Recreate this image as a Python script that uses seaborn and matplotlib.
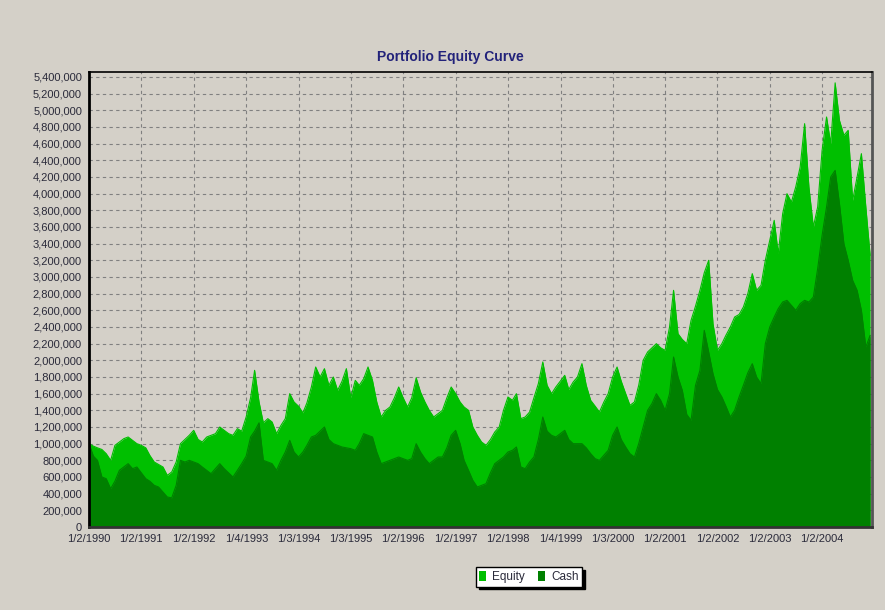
import numpy as np
import pandas as pd
import matplotlib
matplotlib.use("Agg")
import matplotlib.pyplot as plt
import matplotlib.dates as mdates
from matplotlib.patches import Patch
from matplotlib.ticker import FuncFormatter, MultipleLocator
import seaborn as sns

# ---------------- data (values in millions, one per month, Jan 1990 - Dec 2004) -------------
equity_m = [
    1.00, 0.97, 0.95, 0.93, 0.88, 0.80, 0.98, 1.02, 1.06, 1.08, 1.04, 1.00,   # 1990
    0.98, 0.95, 0.86, 0.78, 0.75, 0.72, 0.62, 0.66, 0.78, 1.00, 1.05, 1.10,   # 1991
    1.16, 1.05, 1.02, 1.08, 1.10, 1.12, 1.20, 1.16, 1.12, 1.10, 1.18, 1.15,   # 1992
    1.32, 1.55, 1.88, 1.50, 1.25, 1.30, 1.26, 1.12, 1.22, 1.30, 1.60, 1.50,   # 1993
    1.45, 1.37, 1.49, 1.68, 1.92, 1.80, 1.90, 1.70, 1.80, 1.64, 1.75, 1.90,   # 1994
    1.55, 1.76, 1.70, 1.78, 1.92, 1.76, 1.50, 1.32, 1.40, 1.44, 1.55, 1.68,   # 1995
    1.55, 1.44, 1.55, 1.79, 1.62, 1.50, 1.40, 1.32, 1.36, 1.40, 1.55, 1.68,   # 1996
    1.60, 1.50, 1.44, 1.40, 1.20, 1.10, 1.02, 0.98, 1.05, 1.14, 1.20, 1.40,   # 1997
    1.56, 1.52, 1.60, 1.30, 1.32, 1.38, 1.55, 1.72, 1.98, 1.70, 1.60, 1.68,   # 1998
    1.75, 1.82, 1.65, 1.74, 1.80, 1.96, 1.70, 1.52, 1.45, 1.38, 1.50, 1.60,   # 1999
    1.80, 1.92, 1.75, 1.60, 1.46, 1.50, 1.70, 2.00, 2.10, 2.15, 2.20, 2.15,   # 2000
    2.12, 2.40, 2.84, 2.32, 2.25, 2.20, 2.48, 2.65, 2.84, 3.05, 3.20, 2.44,   # 2001
    2.12, 2.20, 2.30, 2.40, 2.52, 2.55, 2.64, 2.80, 3.04, 2.84, 2.90, 3.20,   # 2002
    3.44, 3.68, 3.28, 3.76, 4.00, 3.90, 4.08, 4.32, 4.84, 4.08, 3.60, 3.84,   # 2003
    4.52, 4.92, 4.60, 5.33, 4.88, 4.70, 4.76, 3.92, 4.20, 4.48, 3.84, 3.26,   # 2004
]
cash_m = [
    1.00, 0.85, 0.80, 0.60, 0.58, 0.46, 0.55, 0.68, 0.72, 0.76, 0.70, 0.72,   # 1990
    0.65, 0.58, 0.55, 0.50, 0.48, 0.42, 0.36, 0.35, 0.50, 0.80, 0.78, 0.80,   # 1991
    0.78, 0.76, 0.72, 0.68, 0.64, 0.70, 0.76, 0.70, 0.65, 0.60, 0.68, 0.76,   # 1992
    0.85, 1.08, 1.15, 1.25, 0.80, 0.78, 0.76, 0.68, 0.80, 0.90, 1.04, 0.90,   # 1993
    0.84, 0.90, 0.98, 1.08, 1.10, 1.15, 1.20, 1.05, 1.00, 0.98, 0.96, 0.95,   # 1994
    0.94, 0.92, 1.00, 1.12, 1.10, 1.08, 0.90, 0.76, 0.78, 0.80, 0.82, 0.84,   # 1995
    0.82, 0.80, 0.82, 1.00, 0.90, 0.82, 0.76, 0.80, 0.84, 0.84, 0.95, 1.10,   # 1996
    1.16, 1.00, 0.80, 0.68, 0.56, 0.48, 0.50, 0.52, 0.65, 0.76, 0.80, 0.84,   # 1997
    0.90, 0.92, 0.96, 0.72, 0.70, 0.78, 0.84, 1.05, 1.32, 1.15, 1.10, 1.08,   # 1998
    1.12, 1.16, 1.05, 1.00, 1.00, 1.00, 0.95, 0.88, 0.82, 0.80, 0.86, 0.92,   # 1999
    1.10, 1.20, 1.05, 0.96, 0.88, 0.84, 1.00, 1.20, 1.40, 1.48, 1.60, 1.52,   # 2000
    1.40, 1.60, 2.04, 1.80, 1.64, 1.35, 1.28, 1.70, 1.88, 2.36, 2.10, 1.84,   # 2001
    1.65, 1.56, 1.45, 1.32, 1.40, 1.56, 1.70, 1.85, 1.96, 1.80, 1.72, 2.20,   # 2002
    2.40, 2.52, 2.62, 2.70, 2.72, 2.66, 2.60, 2.68, 2.72, 2.70, 2.76, 3.10,   # 2003
    3.50, 3.84, 4.20, 4.28, 3.88, 3.40, 3.20, 2.96, 2.84, 2.60, 2.16, 2.30,   # 2004
]
series_names = ["Equity", "Cash"]
tick_dates = ["1990-01-02", "1991-01-02", "1992-01-02", "1993-01-04", "1994-01-03",
              "1995-01-03", "1996-01-02", "1997-01-02", "1998-01-02", "1999-01-04",
              "2000-01-03", "2001-01-02", "2002-01-02", "2003-01-02", "2004-01-02"]
tick_labels = ["1/2/1990", "1/2/1991", "1/2/1992", "1/4/1993", "1/3/1994",
               "1/3/1995", "1/2/1996", "1/2/1997", "1/2/1998", "1/4/1999",
               "1/3/2000", "1/2/2001", "1/2/2002", "1/2/2003", "1/2/2004"]
title_text = "Portfolio Equity Curve"

# ---------------- build frame ----------------
dates = pd.date_range("1990-01-01", periods=len(equity_m), freq="MS") + pd.Timedelta(days=1)
df = pd.DataFrame({
    "date": dates,
    "Equity": np.array(equity_m) * 1e6,
    "Cash": np.array(cash_m) * 1e6,
})

BG = "#D4D0C8"
EQ_COLOR = "#00BF00"
CASH_COLOR = "#008000"
FONT = ["Liberation Sans", "DejaVu Sans"]

sns.set_style("white")
plt.rcParams["font.family"] = FONT

fig = plt.figure(figsize=(8.85, 6.10), dpi=100, facecolor=BG)
ax = fig.add_axes([89 / 885, 1 - 527 / 610, (872 - 89) / 885, (527 - 72) / 610])
ax.set_facecolor(BG)

# areas
ax.fill_between(df["date"], df["Equity"], color=EQ_COLOR, lw=0, zorder=2)
sns.lineplot(data=df, x="date", y="Equity", color=EQ_COLOR, lw=0.8, ax=ax, zorder=2)
ax.fill_between(df["date"], df["Cash"], color=CASH_COLOR, lw=0, zorder=3)
sns.lineplot(data=df, x="date", y="Cash", color=CASH_COLOR, lw=0.8, ax=ax, zorder=3)

ax.set_xlim(pd.Timestamp("1990-01-02"), pd.Timestamp("2004-12-15"))
ax.set_ylim(0, 5.46e6)

# ticks
ax.yaxis.set_major_locator(MultipleLocator(200000))
ax.yaxis.set_major_formatter(FuncFormatter(lambda v, p: f"{int(round(v)):,}"))
ax.set_xticks(pd.to_datetime(tick_dates))
ax.set_xticklabels(tick_labels)
ax.xaxis.set_minor_locator(mdates.MonthLocator(bymonth=[4, 7, 10]))
ax.tick_params(axis="both", which="major", labelsize=8, colors="#333333",
               length=3, width=0.8, direction="out", pad=2)
ax.tick_params(axis="x", which="minor", length=2, width=0.8, colors="#555555")
for lbl in ax.get_xticklabels() + ax.get_yticklabels():
    lbl.set_color("#2a2a3a")
ax.set_xlabel("")
ax.set_ylabel("")

# grid
ax.grid(True, which="major", axis="both", color="#808080", linestyle=(0, (3, 3)),
        linewidth=0.8, zorder=0)
ax.set_axisbelow(True)

# spines
ax.spines["left"].set_color("black")
ax.spines["left"].set_linewidth(2.0)
ax.spines["top"].set_color("black")
ax.spines["top"].set_linewidth(1.2)
ax.spines["right"].set_color("#555555")
ax.spines["right"].set_linewidth(2.0)
ax.spines["bottom"].set_color("#333333")
ax.spines["bottom"].set_linewidth(2.0)
for s in ax.spines.values():
    s.set_visible(True)
    s.set_zorder(5)

# title
fig.text(450 / 885, 1 - 57 / 610, title_text, ha="center", va="center",
         fontsize=10, fontweight="bold", color="#22227A", family=FONT)

# legend
handles = [Patch(facecolor=EQ_COLOR, edgecolor="none", label=series_names[0]),
           Patch(facecolor=CASH_COLOR, edgecolor="none", label=series_names[1])]
leg = fig.legend(handles=handles, loc="center", bbox_to_anchor=(529 / 885, 1 - 577 / 610),
                 ncol=2, frameon=True, fancybox=False, shadow={"color": "black", "alpha": 1},
                 fontsize=8.5, handlelength=0.6, handleheight=1.0, handletextpad=0.5,
                 columnspacing=1.1, borderpad=0.3, borderaxespad=0)
leg.get_frame().set_edgecolor("black")
leg.get_frame().set_linewidth(1.0)
leg.get_frame().set_facecolor("white")
for t in leg.get_texts():
    t.set_color("#2a2a3a")

fig.savefig("out.png", dpi=100, facecolor=BG)
